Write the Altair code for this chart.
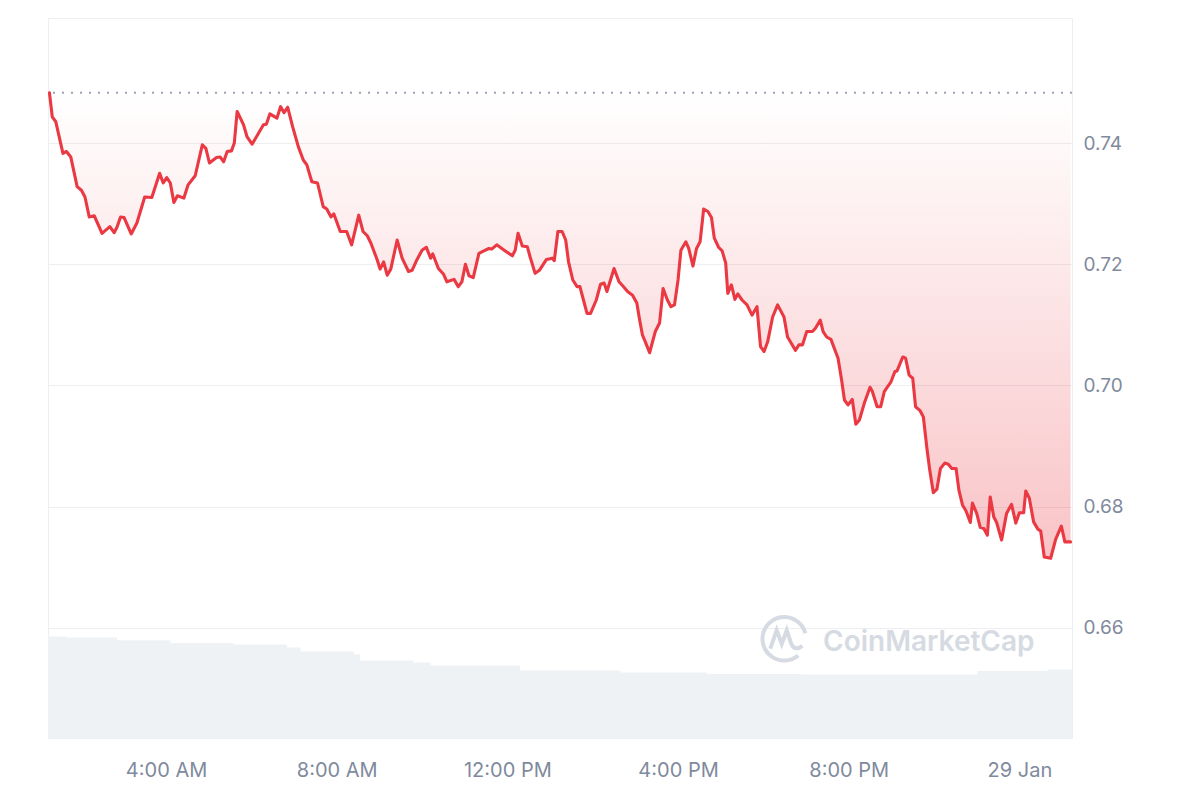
import altair as alt
import pandas as pd

BASE_DATE = "2025-01-28"
OPEN_PRICE = 0.7483

# price series: minutes after 28 Jan 00:00 and price (USD)
minutes = [76, 80, 85, 95, 100, 106, 115, 121, 126, 132, 139, 150, 161, 167, 171, 176, 181, 191, 199, 210,
           220, 231, 236, 241, 246, 251, 256, 265, 271, 281, 291, 296, 301, 311, 316,
           321, 326, 332, 336, 340, 349, 354, 361, 370, 377, 381, 386, 396, 401, 406, 411, 418, 426, 433, 438,
           445, 453, 461, 466, 472, 476, 485, 494, 501, 511, 517, 523, 528, 537,
           541, 546, 551, 556, 565, 572, 581, 586, 593, 600, 606, 612, 615, 623, 630, 635, 645, 651, 656, 661,
           666, 672, 680, 687, 694, 698, 705, 717, 727, 731, 735, 741, 748, 752, 759, 765, 775, 783, 786,
           791, 797, 802, 806, 812, 818, 822, 827, 832, 837, 845, 851, 856, 860, 870, 877, 884, 889, 896, 902,
           906, 910, 914, 920, 928, 934, 939, 945, 950, 955, 960, 964, 971, 975, 981, 986, 991, 996, 1002, 1007,
           1011, 1017, 1022, 1027, 1030, 1035, 1040, 1044, 1050, 1057, 1064, 1071,
           1076, 1081, 1086, 1093, 1100, 1109, 1114, 1118, 1125, 1130, 1135, 1141, 1149, 1153, 1160, 1164, 1169,
           1175, 1185, 1190, 1194, 1199, 1205, 1210, 1215, 1222, 1230, 1233, 1240, 1245, 1250, 1254, 1259, 1265,
           1268, 1276, 1280, 1285, 1290, 1294,
           1300, 1305, 1310, 1314, 1319, 1324, 1329, 1335, 1340, 1345, 1351, 1355, 1360, 1365, 1371, 1374, 1380,
           1385, 1390, 1395, 1399, 1404, 1408, 1415, 1422, 1429, 1435, 1440, 1446, 1449, 1454, 1460, 1466, 1470,
           1475, 1484, 1491, 1499, 1504, 1512]

prices = [0.7483, 0.7443, 0.7435, 0.7383, 0.7386, 0.7377, 0.7328, 0.7322, 0.7311, 0.7278,
          0.7280, 0.7251, 0.7262, 0.7252, 0.7261, 0.7278, 0.7277, 0.7250, 0.7268, 0.7311,
          0.7310, 0.7350, 0.7334, 0.7343, 0.7334, 0.7302, 0.7313, 0.7309, 0.7331, 0.7346,
          0.7397, 0.7391, 0.7367, 0.7376, 0.7377,
          0.7369, 0.7386, 0.7387, 0.7400, 0.7452, 0.7430, 0.7410, 0.7398, 0.7416, 0.7430,
          0.7431, 0.7448, 0.7441, 0.7460, 0.7450, 0.7459, 0.7427, 0.7394, 0.7372, 0.7364,
          0.7336, 0.7334, 0.7295, 0.7291, 0.7278, 0.7283, 0.7254, 0.7254, 0.7232, 0.7281,
          0.7254, 0.7247, 0.7235, 0.7207,
          0.7192, 0.7204, 0.7182, 0.7192, 0.7240, 0.7210, 0.7188, 0.7190, 0.7208, 0.7223,
          0.7228, 0.7210, 0.7217, 0.7193, 0.7184, 0.7171, 0.7175, 0.7163, 0.7171, 0.7200,
          0.7181, 0.7178, 0.7218, 0.7222, 0.7226, 0.7225, 0.7232, 0.7222, 0.7214, 0.7223,
          0.7251, 0.7230, 0.7229, 0.7212, 0.7185, 0.7190, 0.7208, 0.7210, 0.7206,
          0.7254, 0.7254, 0.7240, 0.7204, 0.7174, 0.7163, 0.7163, 0.7141, 0.7119, 0.7119,
          0.7141, 0.7167, 0.7169, 0.7155, 0.7193, 0.7171, 0.7162, 0.7155, 0.7149, 0.7136,
          0.7108, 0.7083, 0.7072, 0.7054, 0.7089, 0.7103, 0.7160, 0.7141, 0.7130, 0.7133,
          0.7174, 0.7223, 0.7237, 0.7226, 0.7197, 0.7226, 0.7237, 0.7291, 0.7287, 0.7277,
          0.7243, 0.7228, 0.7222, 0.7202, 0.7152, 0.7166, 0.7142, 0.7151, 0.7141, 0.7133,
          0.7116, 0.7130,
          0.7064, 0.7056, 0.7072, 0.7113, 0.7133, 0.7113, 0.7080, 0.7072, 0.7058, 0.7067,
          0.7067, 0.7089, 0.7089, 0.7094, 0.7108, 0.7089, 0.7080, 0.7076, 0.7045, 0.7009,
          0.6976, 0.6968, 0.6977, 0.6936, 0.6943, 0.6971, 0.6997, 0.6991, 0.6965, 0.6965,
          0.6990, 0.6997, 0.7005, 0.7023, 0.7024, 0.7047, 0.7045, 0.7017, 0.7012, 0.6965,
          0.6959, 0.6948, 0.6896, 0.6860, 0.6823, 0.6829, 0.6863, 0.6872, 0.6870, 0.6863,
          0.6863, 0.6827, 0.6803, 0.6793, 0.6774, 0.6806, 0.6789, 0.6766, 0.6764, 0.6753,
          0.6816, 0.6783, 0.6774, 0.6745, 0.6789, 0.6804, 0.6773, 0.6790, 0.6790, 0.6826,
          0.6814, 0.6775, 0.6763, 0.6760, 0.6717, 0.6715, 0.6746, 0.6768, 0.6742, 0.6742]

# volume (millions, step series)
vol_minutes = [74, 100, 171, 246, 335, 410, 429, 504, 513, 588, 612, 738, 879, 1001, 1132, 1381, 1480, 1514]
vol_millions = [50.7, 50.2, 48.9, 47.5, 46.8, 45.2, 43.2, 41.8, 38.7, 37.7, 36.2, 33.8, 32.7, 32.0, 31.8,
                33.5, 34.3, 34.3]

y_ticks = [0.66, 0.68, 0.70, 0.72, 0.74]
x_tick_minutes = [240, 480, 720, 960, 1200, 1440]
x_domain_minutes = [74, 1514]
price_domain = [0.64185, 0.76062]
vol_domain = [0, 360]

base = pd.Timestamp(BASE_DATE)


def to_dt(m):
    t = base + pd.Timedelta(minutes=m)
    return alt.DateTime(year=t.year, month=t.month, date=t.day, hours=t.hour, minutes=t.minute)


price_df = pd.DataFrame({"time": base + pd.to_timedelta(minutes, unit="m"), "price": prices})
vol_df = pd.DataFrame({"time": base + pd.to_timedelta(vol_minutes, unit="m"), "volume": vol_millions})

RED = "#ea3943"
GRAY = "#808a9d"
FONT = "Inter"

x_enc = alt.X(
    "time:T",
    title=None,
    scale=alt.Scale(domain=[to_dt(m) for m in x_domain_minutes]),
    axis=alt.Axis(
        values=[to_dt(m) for m in x_tick_minutes],
        labelExpr="hours(datum.value) == 0 ? timeFormat(datum.value, '%-d %b') : timeFormat(datum.value, '%-I:%M %p')",
        grid=False, ticks=False, tickSize=0, domain=False,
        labelFont=FONT, labelFontSize=20, labelColor=GRAY,
        labelBaseline="alphabetic", labelPadding=38, labelFlush=False,
    ),
)

y_scale = alt.Scale(domain=price_domain, nice=False, zero=False)
y_axis = alt.Axis(
    orient="right", values=y_ticks, format=".2f", title=None,
    grid=True, gridColor="#eceef2", gridWidth=1,
    ticks=False, tickSize=0, domain=False,
    labelFont=FONT, labelFontSize=19, labelColor=GRAY,
    labelBaseline="middle", labelPadding=11,
)

volume = alt.Chart(vol_df).mark_area(color="#eff2f5", interpolate="step-after").encode(
    x=x_enc,
    y=alt.Y("volume:Q", scale=alt.Scale(domain=vol_domain, nice=False), axis=None),
)

fill = alt.Chart(price_df).mark_area(
    color=alt.Gradient(
        gradient="linear",
        stops=[alt.GradientStop(color="rgba(234,57,67,0)", offset=0),
               alt.GradientStop(color="rgba(234,57,67,0.3)", offset=1)],
        x1=0, x2=0, y1=0, y2=1,
    )
).encode(
    x=x_enc,
    y=alt.Y("price:Q", scale=y_scale, axis=y_axis),
    y2=alt.datum(OPEN_PRICE),
)

open_rule = alt.Chart(pd.DataFrame({"open": [OPEN_PRICE]})).mark_rule(
    color="#9ca3b6", strokeWidth=2, strokeDash=[2, 7]
).encode(y=alt.Y("open:Q", scale=y_scale))

line = alt.Chart(price_df).mark_line(
    color=RED, strokeWidth=3.1, strokeJoin="round", strokeCap="round"
).encode(
    x=x_enc,
    y=alt.Y("price:Q", scale=y_scale),
)

price_layer = alt.layer(fill, open_rule, line)

wm_color = "#d6dae2"
logo_path = ("M 0.62 0.72 A 0.95 0.95 0 1 1 0.93 -0.25 "
             "M -0.6 0.42 L -0.32 -0.38 L -0.1 0.22 L 0.12 -0.38 L 0.32 0.22 Q 0.48 0.55 0.8 0.3")
logo = alt.Chart(pd.DataFrame({"k": [1]})).mark_point(
    shape=logo_path, filled=False, stroke=wm_color, strokeWidth=4, size=2100, opacity=1
).encode(x=alt.value(736), y=alt.value(621))

wm_text = alt.Chart(pd.DataFrame({"t": ["CoinMarketCap"]})).mark_text(
    font=FONT, fontSize=28, fontWeight=600, color=wm_color, align="left", baseline="alphabetic"
).encode(text="t:N", x=alt.value(775), y=alt.value(633))

chart = alt.layer(volume, price_layer, logo, wm_text).resolve_scale(
    y="independent"
).properties(
    width=1024, height=720,
    padding={"left": 39, "top": 10, "right": 10, "bottom": 10},
    background="white",
).configure_view(stroke="#eceef2", strokeWidth=1)

chart.save("out.html", embed_options={"renderer": "svg", "actions": False})
